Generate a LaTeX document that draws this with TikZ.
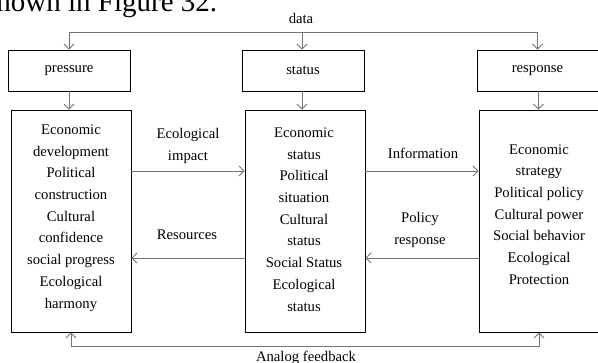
\documentclass[tikz,border=0pt]{standalone}
\usepackage{fontspec}
\setmainfont{Liberation Serif}
\usetikzlibrary{arrows.meta}
\tikzset{
  x=1pt, y=-1pt,
  txt/.style={font=\fontsize{14.7pt}{21.7pt}\selectfont, align=center, inner sep=0pt},
  topbox/.style={draw=black, line width=0.9pt, minimum width=122pt, minimum height=41pt, inner sep=0pt, font=\fontsize{14.7pt}{21.7pt}\selectfont},
  bigbox/.style={draw=black, line width=0.9pt, minimum width=120pt, minimum height=222pt, inner sep=0pt},
  conn/.style={draw=black!55, line width=0.8pt},
  arr/.style={conn, -{Straight Barb[length=5pt,width=10pt,line width=0.8pt]}},
  darr/.style={conn, {Straight Barb[length=5pt,width=10pt,line width=0.8pt]}-{Straight Barb[length=5pt,width=10pt,line width=0.8pt]}},
}
\begin{document}
\begin{tikzpicture}
\path[use as bounding box, clip] (0,0) rectangle (598,363);
\fill[white] (0,0) rectangle (598,363);
% page text fragment
\node[anchor=base west, inner sep=0pt, font=\fontsize{29pt}{32pt}\selectfont] (pagetxt) at (-15,12) {shown in Figure 32.};
% top boxes
\node[topbox] (pressure) at (69,70.5) {pressure};
\node[topbox] (status) at (303,70.5) {status};
\node[topbox, minimum width=121pt] (response) at (537.5,70.5) {response};
% big boxes
\node[bigbox] (lb) at (71,221) {};
\node[bigbox] (mb) at (305,221) {};
\node[bigbox, minimum width=121pt] (rb) at (539.5,221) {};
% box texts
\node[txt] (lt) at (71,218) {Economic\\development\\Political\\construction\\Cultural\\confidence\\social progress\\Ecological\\harmony};
\node[txt] (mt) at (304,219.5) {Economic\\status\\Political\\situation\\Cultural\\status\\Social Status\\Ecological\\status};
\node[txt] (rt) at (539,214.5) {Economic\\strategy\\Political policy\\Cultural power\\Social behavior\\Ecological\\Protection};
% data line
\coordinate (dl) at (0,32);
\node[txt] (data) at (301,18) {data};
\draw[conn] (pressure.north |- dl) -- (response.north |- dl);
\draw[arr] (pressure.north |- dl) -- (pressure.north);
\draw[arr] ([xshift=-1pt]status.north |- dl) -- ([xshift=-1pt]status.north);
\draw[arr] (response.north |- dl) -- (response.north);
% top to big
\draw[arr] (pressure.south) -- (pressure.south |- lb.north);
\draw[arr] ([xshift=-1pt]status.south) -- ([xshift=-1pt]status.south |- mb.north);
\draw[arr] ([xshift=1pt]response.south) -- ([xshift=1pt]response.south |- rb.north);
% horizontal arrows
\coordinate (r1) at (0,171);
\coordinate (r2) at (0,258);
\draw[arr] (lb.east |- r1) -- (mb.west |- r1);
\draw[arr] (mb.west |- r2) -- (lb.east |- r2);
\draw[arr] (mb.east |- r1) -- (rb.west |- r1);
\draw[arr] (rb.west |- r2) -- (mb.east |- r2);
\node[txt] (l1) at (188,146) {Ecological\\impact};
\node[txt] (l2) at (187,235) {Resources};
\node[txt] (l3) at (423,153) {Information};
\node[txt] (l4) at (420,230) {Policy\\response};
% feedback
\coordinate (fb) at (0,346);
\draw[darr] (lb.south) -- (lb.south |- fb) -- ([xshift=-0.5pt]rb.south |- fb) -- ([xshift=-0.5pt]rb.south);
\node[txt] (fbl) at (306,357.5) {Analog feedback};
\end{tikzpicture}
\end{document}
